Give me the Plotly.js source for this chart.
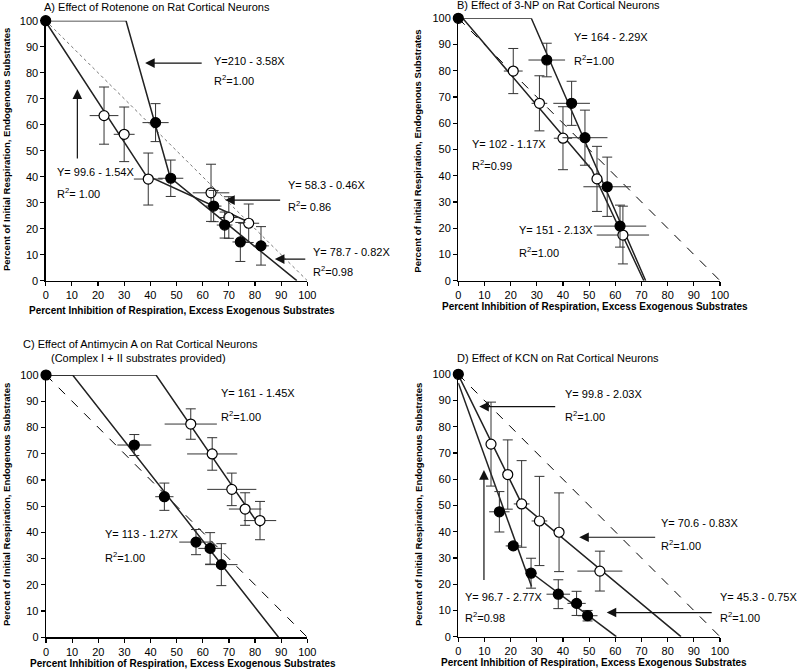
<!DOCTYPE html>
<html><head><meta charset="utf-8">
<script src="https://cdn.plot.ly/plotly-3.0.1.min.js"></script>
<style>html,body{margin:0;padding:0;background:#fff}#plot{width:800px;height:671px}</style>
</head><body><div id="plot"></div>
<script>
// ---------- Panel A: Rotenone ----------
const A_filled_x = [0, 42, 47.8, 64.2, 68.4, 74.4, 82.3];
const A_filled_y = [100, 60.8, 39.4, 28.7, 21.4, 14.9, 13.4];
const A_filled_ex = [0, 5, 4.8, 3, 3, 3, 3];
const A_filled_ey = [0, 7.3, 7, 6, 5, 7.5, 7.4];
const A_open_x = [22.3, 30, 39.2, 63.2, 70, 77.6];
const A_open_y = [63.5, 56.3, 39.1, 33.8, 24.3, 22.1];
const A_open_ex = [5.5, 4, 5.5, 7, 4, 4];
const A_open_ey = [11, 10.5, 10, 11, 8, 7.4];
const A_fitF_x = [0, 30.7, 47.6, 96];
const A_fitF_y = [100, 100, 39.7, 0];
const A_fitO_x = [0, 38.2, 78];
const A_fitO_y = [99.6, 40.7, 22.4];
const A_diag_x = [0, 100];
const A_diag_y = [100, 0];

// ---------- Panel B: 3-NP ----------
const B_filled_x = [0, 33.8, 43.3, 48.4, 56.9, 61.8];
const B_filled_y = [100, 84.1, 67.6, 54.5, 35.8, 20.8];
const B_filled_ex = [0, 7, 7, 8.6, 9.1, 10];
const B_filled_ey = [0, 6.4, 8.4, 10.5, 11.3, 8];
const B_open_x = [21, 31, 40, 53, 62.9];
const B_open_y = [79.9, 67.6, 54.3, 38.8, 17.4];
const B_open_ex = [3.6, 3, 3.5, 2, 10];
const B_open_ey = [8.6, 10.5, 12, 12.4, 11];
const B_fitF_x = [0, 27.9, 71.6];
const B_fitF_y = [100, 100, 0];
const B_fitO_x = [1.7, 51, 70.9];
const B_fitO_y = [100, 42.3, 0];
const B_diag_x = [0, 100];
const B_diag_y = [100, 0];

// ---------- Panel C: Antimycin A ----------
const C_filled_x = [0, 33.8, 45.3, 57.4, 62.8, 67.1];
const C_filled_y = [100, 73.3, 53.6, 36.3, 33.9, 27.7];
const C_filled_ex = [0, 6.5, 3.5, 6.4, 4.5, 6.2];
const C_filled_ey = [0, 4, 5.2, 4.8, 6, 8];
const C_open_x = [55.4, 63.6, 71.1, 76.2, 81.9];
const C_open_y = [81.3, 69.9, 56.4, 48.9, 44.5];
const C_open_ex = [10, 9.6, 9.4, 6.2, 6.2];
const C_open_ey = [5.8, 6.2, 6.2, 6.2, 7.3];
const C_fitF_x = [0, 10.2, 89];
const C_fitF_y = [100, 100, 0];
const C_fitO_x = [0, 42.1, 82];
const C_fitO_y = [100, 100, 42.1];
const C_diag_x = [0, 100];
const C_diag_y = [100, 0];

// ---------- Panel D: KCN ----------
const D_filled_x = [0, 15.7, 21, 27.8, 38.2, 45.2, 49.4];
const D_filled_y = [100, 47.6, 34.6, 24.2, 16.2, 12.7, 8];
const D_filled_ex = [0, 3.9, 2.9, 2.2, 4.5, 3.5, 3.8];
const D_filled_ey = [0, 7.7, 1, 5.7, 5.5, 4.6, 2];
const D_open_x = [12.5, 18.9, 24.2, 31, 38.5, 54.1];
const D_open_y = [73.4, 61.8, 50.6, 44.1, 39.8, 25];
const D_open_ex = [1, 2, 3, 3, 1, 8.6];
const D_open_ey = [16, 13.2, 16.5, 17, 15, 7.6];
const D_fitO_x = [0, 24.3, 85.1];
const D_fitO_y = [99.8, 50.5, 0];
const D_fitF1_x = [0, 28];
const D_fitF1_y = [96.7, 19.1];
const D_fitF2_x = [26, 60.4];
const D_fitF2_y = [25.8, 0];
const D_diag_x = [0, 100];
const D_diag_y = [100, 0];

const FONT = 'Liberation Sans, Arial, sans-serif';
const traces = [];
function line(xs, ys, ax, style) {
  traces.push(Object.assign({type:'scatter', mode:'lines', x:xs, y:ys, xaxis:'x'+ax, yaxis:'y'+ax,
    hoverinfo:'skip', showlegend:false, line:{color:'#222', width:1.5}}, style||{}));
}
function pts(xs, ys, exs, eys, ax, filled) {
  traces.push({type:'scatter', mode:'markers', x:xs, y:ys, xaxis:'x'+ax, yaxis:'y'+ax, cliponaxis:false,
    showlegend:false, hoverinfo:'skip',
    error_x:{type:'data', array:exs, visible:true, color:'#333', thickness:1, width:0},
    error_y:{type:'data', array:eys, visible:true, color:'#333', thickness:1, width:5},
    marker:{size:10, color: filled ? '#000' : '#fff', line:{color:'#000', width:1.2}}});
}
const dotted = {line:{color:'#777', width:1, dash:'dot'}};
const dashed = {line:{color:'#000', width:1, dash:'dash'}};

line(A_diag_x, A_diag_y, '', dotted);
line(A_fitF_x, A_fitF_y, '');
line(A_fitO_x, A_fitO_y, '');
pts(A_open_x, A_open_y, A_open_ex, A_open_ey, '', false);
pts(A_filled_x, A_filled_y, A_filled_ex, A_filled_ey, '', true);

line(B_diag_x, B_diag_y, '2', dashed);
line(B_fitF_x, B_fitF_y, '2');
line(B_fitO_x, B_fitO_y, '2');
pts(B_open_x, B_open_y, B_open_ex, B_open_ey, '2', false);
pts(B_filled_x, B_filled_y, B_filled_ex, B_filled_ey, '2', true);

line(C_diag_x, C_diag_y, '3', dashed);
line(C_fitF_x, C_fitF_y, '3');
line(C_fitO_x, C_fitO_y, '3');
pts(C_open_x, C_open_y, C_open_ex, C_open_ey, '3', false);
pts(C_filled_x, C_filled_y, C_filled_ex, C_filled_ey, '3', true);

line(D_diag_x, D_diag_y, '4', dashed);
line(D_fitO_x, D_fitO_y, '4');
line(D_fitF1_x, D_fitF1_y, '4');
line(D_fitF2_x, D_fitF2_y, '4');
pts(D_open_x, D_open_y, D_open_ex, D_open_ey, '4', false);
pts(D_filled_x, D_filled_y, D_filled_ex, D_filled_ey, '4', true);

function axis(domain, anchor) {
  return {domain:domain, anchor:anchor, range:[0,100], dtick:10, showline:true, linecolor:'#000', linewidth:1.3,
    ticks:'outside', ticklen:4, tickwidth:1.2, tickcolor:'#000', showgrid:false, zeroline:false,
    tickfont:{family:FONT, size:11, color:'#000'}, fixedrange:true};
}
const ann = [];
function txt(ax, x, y, t) {
  ann.push({xref:'x'+ax, yref:'y'+ax, x:x, y:y, text:t, showarrow:false, xanchor:'left', yanchor:'middle',
    font:{family:FONT, size:11, color:'#000'}});
}
function eq(ax, x, y, y2, e, r) {
  txt(ax, x, y, e);
  txt(ax, x, y2, 'R<sup>2</sup>' + r);
}
function arrow(ax, hx, hy, tx, ty) {
  ann.push({xref:'x'+ax, yref:'y'+ax, axref:'x'+ax, ayref:'y'+ax, x:hx, y:hy, ax:tx, ay:ty, text:'',
    showarrow:true, arrowhead:2, arrowsize:1.6, arrowwidth:1.2, arrowcolor:'#111', standoff:0, startstandoff:0,
    font:{size:1}});
}
function ptxt(x, y, t, opts) {
  ann.push(Object.assign({xref:'paper', yref:'paper', x:x, y:y, text:t, showarrow:false, xanchor:'left', yanchor:'middle',
    font:{family:FONT, size:11, color:'#000'}}, opts||{}));
}
const ytitle = 'Percent of Initial Respiration, Endogenous Substrates';
const xtitle = 'Percent Inhibition of Respiration, Excess Exogenous Substrates';
const yto = {textangle:-90, xanchor:'center', font:{family:FONT, size:9.5, color:'#000', weight:'bold'}};
const xto = {xanchor:'center', font:{family:FONT, size:10, color:'#000', weight:'bold'}};

// titles
ptxt(0.0529, 0.990, 'A) Effect of Rotenone on Rat Cortical Neurons');
ptxt(0.5688, 0.9925, 'B) Effect of 3-NP on Rat Cortical Neurons');
ptxt(0.176, 1-344.3/671, 'C) Effect of Antimycin A on Rat Cortical Neurons', {xanchor:'center'});
ptxt(0.173, 1-357.7/671, '(Complex I + II substrates provided)', {xanchor:'center'});
ptxt(0.5688, 1-358.3/671, 'D) Effect of KCN on Rat Cortical Neurons');
// axis titles
ptxt(6/800, 1-150/671, ytitle, yto);
ptxt(418/800, 1-151.7/671, ytitle, yto);
ptxt(6/800, 1-505/671, ytitle, yto);
ptxt(418/800, 1-505/671, ytitle, yto);
ptxt(182/800, 1-310/671, xtitle, xto);
ptxt(594.5/800, 1-306.7/671, xtitle, xto);
ptxt(182.8/800, 1-663.3/671, xtitle, xto);
ptxt(594/800, 1-662.7/671, xtitle, xto);

// Panel A equations
eq('', 63.7, 84.5, 77.2, 'Y=210 - 3.58X', '=1.00');
arrow('', 38, 83.7, 60.2, 83.7);
eq('', 3.6, 41.8, 33.7, 'Y= 99.6 - 1.54X', '= 1.00');
arrow('', 12.1, 73.6, 12.1, 46.4);
eq('', 91.9, 36.8, 28.7, 'Y= 58.3 - 0.46X', '= 0.86');
arrow('', 68.6, 31, 90.2, 31);
// this label sits right of the axis end, so place it on the page
ptxt(311/800, 1-252.1/671, 'Y= 78.7 - 0.82X');
ptxt(311/800, 1-271.1/671, 'R<sup>2</sup>=0.98');
arrow('', 87.6, 8.3, 99.8, 8.3);
// Panel B
eq('2', 43.3, 92.8, 84.1, 'Y= 164 - 2.29X', '=1.00');
eq('2', 4.5, 52, 44.1, 'Y= 102 - 1.17X', '=0.99');
eq('2', 22.5, 19.3, 11, 'Y= 151 - 2.13X', '=1.00');
// Panel C
eq('3', 66.1, 93, 84.4, 'Y= 161 - 1.45X', '=1.00');
eq('3', 21.9, 39.4, 30.7, 'Y= 113 - 1.27X', '=1.00');
// Panel D
eq('4', 40.1, 92.5, 84.1, 'Y= 99.8 - 2.03X', '=1.00');
arrow('4', 8, 87.7, 37.6, 87.7);
eq('4', 1.9, 15.2, 7.6, 'Y= 96.7 - 2.77X', '=0.98');
arrow('4', 9.8, 63.5, 9.8, 21);
eq('4', 76.8, 43.2, 34.9, 'Y= 70.6 - 0.83X', '=1.00');
arrow('4', 46.2, 37.9, 75.8, 37.9);
eq('4', 99.4, 15.2, 7.4, 'Y= 45.3 - 0.75X', '=1.00');
arrow('4', 56.7, 9.2, 97.4, 9.2);

const layout = {
  width:800, height:671, margin:{l:0, r:0, t:0, b:0}, paper_bgcolor:'#fff', plot_bgcolor:'#fff',
  showlegend:false, font:{family:FONT, color:'#000'},
  xaxis: axis([45.7/800, 307.3/800], 'y'),
  yaxis: axis([1-280.7/671, 1-20.7/671], 'x'),
  xaxis2: axis([458.3/800, 720/800], 'y2'),
  yaxis2: axis([1-280.7/671, 1-18.3/671], 'x2'),
  xaxis3: axis([46/800, 307.3/800], 'y3'),
  yaxis3: axis([1-637.3/671, 1-375/671], 'x3'),
  xaxis4: axis([458.3/800, 720/800], 'y4'),
  yaxis4: axis([1-636.7/671, 1-374.3/671], 'x4'),
  annotations: ann
};
Plotly.newPlot('plot', traces, layout, {staticPlot:true, displayModeBar:false});
</script></body></html>
